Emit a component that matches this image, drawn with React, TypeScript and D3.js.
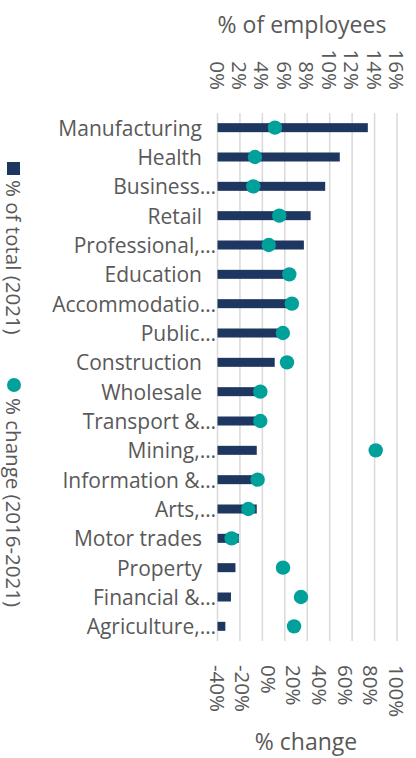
import * as d3 from "d3";

const categories = [
  "Manufacturing",
  "Health",
  "Business…",
  "Retail",
  "Professional,…",
  "Education",
  "Accommodatio…",
  "Public…",
  "Construction",
  "Wholesale",
  "Transport &…",
  "Mining,…",
  "Information &…",
  "Arts,…",
  "Motor trades",
  "Property",
  "Financial &…",
  "Agriculture,…",
];

// % of total employees (2021)
const shareOfTotal = [13.4, 10.9, 9.6, 8.3, 7.7, 6.4, 6.5, 5.5, 5.1, 3.9, 3.9, 3.5, 3.4, 3.5, 1.9, 1.6, 1.2, 0.7];

// % change (2016-2021)
const pctChange = [4.8, -10.8, -12.1, 8.2, 0, 16, 18, 11, 14.2, -6.6, -6.6, 83.4, -8.7, -16, -29, 11.1, 25.1, 19.7];

const topTicks = [0, 2, 4, 6, 8, 10, 12, 14, 16];
const bottomTicks = [-40, -20, 0, 20, 40, 60, 80, 100];

const W = 416;
const H = 758;
const FONT = "'Open Sans', sans-serif";
const TEXT = "#595959";
const NAVY = "#1E3761";
const TEAL = "#00A19B";

export default function App() {
  const plot = { left: 217.5, right: 397, top: 113, bottom: 641 };

  const x = d3.scaleLinear().domain([0, 16]).range([plot.left, plot.right]);
  const x2 = d3.scaleLinear().domain([-40, 100]).range([plot.left, plot.right]);
  const y = d3
    .scaleBand<string>()
    .domain(categories)
    .range([plot.top, plot.bottom])
    .paddingInner(0)
    .paddingOuter(0);

  const barH = 9;
  const mid = (c: string) => (y(c) ?? 0) + y.bandwidth() / 2;

  return (
    <svg
      width={W}
      height={H}
      style={{ position: "absolute", left: 0, top: 0, background: "#fff" }}
      fontFamily={FONT}
    >
      {/* gridlines */}
      {topTicks.map((t) => (
        <line
          key={"g" + t}
          x1={x(t)}
          x2={x(t)}
          y1={plot.top}
          y2={plot.bottom}
          stroke="#D9D9D9"
          strokeWidth={1.5}
        />
      ))}

      {/* top axis */}
      <text x={302} y={33} textAnchor="middle" fontSize={23} fill={TEXT}>
        % of employees
      </text>
      {topTicks.map((t) => (
        <text
          key={"t" + t}
          transform={`translate(${x(t)},90) rotate(90)`}
          textAnchor="end"
          dominantBaseline="central"
          fontSize={20.5}
          fill={TEXT}
        >
          {t + "%"}
        </text>
      ))}

      {/* bottom axis */}
      {bottomTicks.map((t) => (
        <text
          key={"b" + t}
          transform={`translate(${x2(t)},665) rotate(90)`}
          textAnchor="start"
          dominantBaseline="central"
          fontSize={20.5}
          fill={TEXT}
        >
          {t + "%"}
        </text>
      ))}
      <text x={306} y={750} textAnchor="middle" fontSize={23} fill={TEXT}>
        % change
      </text>

      {/* category labels */}
      {categories.map((c) => (
        <text
          key={"c" + c}
          x={c.endsWith("…") ? 216 : 202}
          y={mid(c)}
          textAnchor="end"
          dominantBaseline="central"
          fontSize={21}
          fill={TEXT}
        >
          {c}
        </text>
      ))}

      {/* bars */}
      {categories.map((c, i) => (
        <rect
          key={"r" + c}
          x={x(0)}
          y={mid(c) - barH / 2}
          width={x(shareOfTotal[i]) - x(0)}
          height={barH}
          fill={NAVY}
        />
      ))}

      {/* dots */}
      {categories.map((c, i) => (
        <circle key={"d" + c} cx={x2(pctChange[i])} cy={mid(c)} r={7.2} fill={TEAL} />
      ))}

      {/* legend */}
      <rect x={7} y={162} width={13} height={13} fill={NAVY} />
      <text
        transform="translate(14,180) rotate(90)"
        textAnchor="start"
        dominantBaseline="central"
        fontSize={20.5}
        fill={TEXT}
      >
        % of total (2021)
      </text>
      <circle cx={14} cy={385} r={7} fill={TEAL} />
      <text
        transform="translate(14,398) rotate(90)"
        textAnchor="start"
        dominantBaseline="central"
        fontSize={20.5}
        fill={TEXT}
      >
        % change (2016-2021)
      </text>
    </svg>
  );
}
